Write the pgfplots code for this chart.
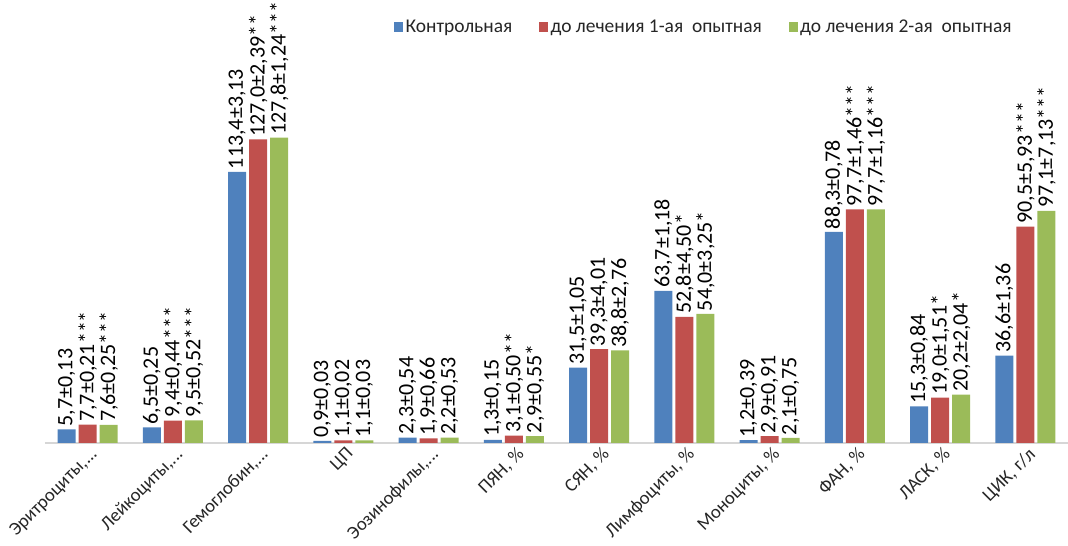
\documentclass[border=0pt]{standalone}
\usepackage{pgfplots}
\pgfplotsset{compat=1.18}
\usepackage{fontspec}
\setmainfont{Carlito}
\definecolor{cblue}{HTML}{4F81BD}
\definecolor{cred}{HTML}{C0504D}
\definecolor{cgreen}{HTML}{9BBB59}
\newcommand{\dd}{{.}{.}{.}}
\begin{document}
\begin{tikzpicture}
\begin{axis}[
  name=ax,
  scale only axis,
  width=767.25pt, height=250.95pt,
  xmin=-0.5, xmax=11.5, ymin=0, ymax=140,
  ybar=2.25pt, bar width=13.5pt,
  axis y line=none,
  axis x line*=bottom,
  x axis line style={draw=black!16, line width=1pt, -},
  xtick={0,1,2,3,4,5,6,7,8,9,10,11},
  xticklabels={{Эритроциты,\dd},{Лейкоциты,\dd},{Гемоглобин,\dd},ЦП,{Эозинофилы,\dd},{ПЯН, \%},{СЯН, \%},{Лимфоциты, \%},{Моноциты, \%},{ФАН, \%},{ЛАСК, \%},{ЦИК, г/л}},
  major tick length=0pt,
  xticklabel style={rotate=45, anchor=north east, font=\fontsize{14}{14}\selectfont, text=black!85, inner sep=1pt, yshift=-1.5pt, xshift=0.5pt},
  nodes near coords,
  point meta=explicit symbolic,
  every node near coord/.append style={rotate=90, anchor=west, font=\fontsize{16.5}{16.5}\selectfont, text=black, inner sep=2pt},
  clip=false,
  legend columns=3,
  legend style={at={(0.337,1.243)}, anchor=west, draw=none, fill=none, font=\fontsize{14.6}{14.6}\selectfont, text=black!85,
    /tikz/every even column/.append style={column sep=18pt}},
  legend image code/.code={\fill[#1] (-1.5pt,-3.6pt) rectangle (5.2pt,3.6pt);},
]
\addplot[fill=cblue, draw=none] table[meta=l] {
x y l
0 5.7 5,7±0,13
1 6.5 6,5±0,25
2 113.4 113,4±3,13
3 0.9 0,9±0,03
4 2.3 2,3±0,54
5 1.3 1,3±0,15
6 31.5 31,5±1,05
7 63.7 63,7±1,18
8 1.2 1,2±0,39
9 88.3 88,3±0,78
10 15.3 15,3±0,84
11 36.6 36,6±1,36
};
\addplot[fill=cred, draw=none] table[meta=l] {
x y l
0 7.7 7,7±0,21***
1 9.4 9,4±0,44***
2 127.0 127,0±2,39**
3 1.1 1,1±0,02
4 1.9 1,9±0,66
5 3.1 3,1±0,50**
6 39.3 39,3±4,01
7 52.8 52,8±4,50*
8 2.9 2,9±0,91
9 97.7 97,7±1,46***
10 19.0 19,0±1,51*
11 90.5 90,5±5,93***
};
\addplot[fill=cgreen, draw=none] table[meta=l] {
x y l
0 7.6 7,6±0,25***
1 9.5 9,5±0,52***
2 127.8 127,8±1,24***
3 1.1 1,1±0,03
4 2.2 2,2±0,53
5 2.9 2,9±0,55*
6 38.8 38,8±2,76
7 54.0 54,0±3,25*
8 2.1 2,1±0,75
9 97.7 97,7±1,16***
10 20.2 20,2±2,04*
11 97.1 97,1±7,13***
};
\legend{Контрольная, до лечения 1-ая\ \ опытная, до лечения 2-ая\ \ опытная}
\end{axis}
\pgfresetboundingbox
\path[use as bounding box] ([xshift=-33.75pt,yshift=-77.25pt]ax.south west) rectangle ([yshift=81.3pt]ax.north east);
\end{tikzpicture}
\end{document}
